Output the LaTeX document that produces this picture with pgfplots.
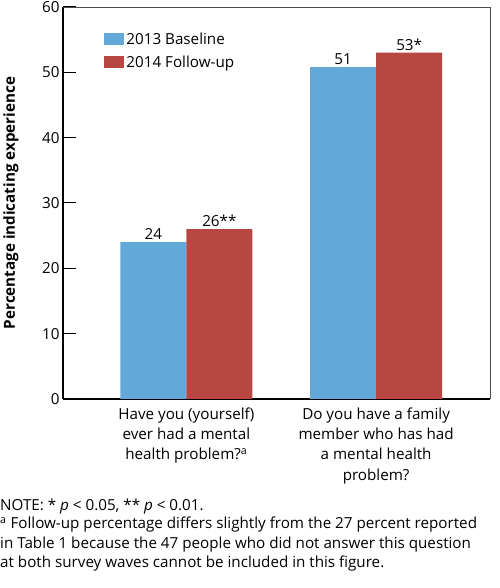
\documentclass[border=0pt]{standalone}
\usepackage{fontspec}
\setmainfont{Open Sans}
\usepackage{pgfplots}
\pgfplotsset{compat=1.18}
\definecolor{cblue}{HTML}{62A8D9}
\definecolor{cred}{HTML}{B84641}
\newcommand\fs{\fontsize{15.2bp}{19.5bp}\selectfont}
\newcommand\fsx{\fontsize{15.2bp}{20.3bp}\selectfont}
\begin{document}
\begin{tikzpicture}[font=\fs]
\path[use as bounding box] (0,0) rectangle (500bp,588bp);
\begin{axis}[
  at={(63bp,189bp)}, anchor=south west,
  scale only axis, width=427bp, height=392bp,
  xmin=-0.65, xmax=1.6, ymin=0, ymax=60,
  ybar=0pt, bar width=66bp,
  axis x line*=bottom, axis y line*=left,
  axis line style={line width=2bp, black},
  xtick={0,1},
  xticklabels={{Have you (yourself)\\ever had a mental\\health problem?\textsuperscript{a}},
               {Do you have a family\\member who has had\\a mental health\\problem?}},
  x tick style={draw=none},
  xticklabel style={align=center, font=\fsx, yshift=-5bp},
  ytick={0,10,...,60}, tick align=inside, major tick length=13bp,
  y tick style={black, line width=1bp},
  yticklabel style={font=\fs},
  /pgf/number format/assume math mode=true,
  ylabel={\bfseries Percentage indicating experience},
  ylabel style={at={(axis description cs:-0.122,0.5)}, anchor=center, font=\fs},
  legend style={draw=none, fill=none, at={(axis description cs:0.092,0.945)}, anchor=north west,
     font=\fs, row sep=6bp, inner sep=2bp},
  legend cell align=left,
  legend image code/.code={\fill[#1] (0bp,-6bp) rectangle (20bp,6bp);},
  nodes near coords, point meta=explicit symbolic,
  every node near coord/.append style={black, font=\fs, yshift=-1bp},
  clip=false,
  after end axis/.code={\draw[black!70, line width=0.8bp] (rel axis cs:0,1) -- (rel axis cs:1,1) -- (rel axis cs:1,0);}
]
\addplot[fill=cblue, draw=none] coordinates {(0,24) [24] (1,50.8) [51]};
\addplot[fill=cred, draw=none] coordinates {(0,26) [26**] (1,53) [53*]};
\legend{2013 Baseline, 2014 Follow-up}
\end{axis}
\node[anchor=base west, inner sep=0] at (0bp,77bp) {NOTE: * \textit{p} < 0.05, ** \textit{p} < 0.01.};
\node[anchor=north west, inner sep=0, align=left] at (0bp,71bp) {\textsuperscript{a} Follow-up percentage differs slightly from the 27 percent reported\\in Table 1 because the 47 people who did not answer this question\\at both survey waves cannot be included in this figure.};
\end{tikzpicture}
\end{document}
